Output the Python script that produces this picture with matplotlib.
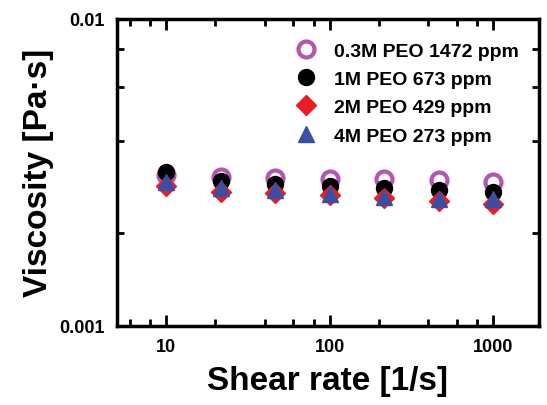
import numpy as np
import matplotlib.pyplot as plt
from matplotlib import ticker

plt.rcParams['font.family'] = ['Liberation Sans', 'DejaVu Sans']
plt.rcParams['font.weight'] = 'bold'

shear_rate = [10, 21.5, 46.4, 100, 215, 464, 1000]
visc_03M = [0.00309, 0.00305, 0.00303, 0.00301, 0.00300, 0.00298, 0.00295]
visc_1M = [0.00318, 0.00296, 0.00290, 0.00286, 0.00281, 0.00276, 0.00272]
visc_2M = [0.00286, 0.00272, 0.00270, 0.00266, 0.00261, 0.00256, 0.00250]
visc_4M = [0.00295, 0.00281, 0.00276, 0.00269, 0.00263, 0.00259, 0.00259]
labels = ['0.3M PEO 1472 ppm', '1M PEO 673 ppm', '2M PEO 429 ppm', '4M PEO 273 ppm']

fig = plt.figure(figsize=(5.47, 4.06), dpi=100)
ax = fig.add_axes([0.214, 0.195, 0.771, 0.756])

ax.plot(shear_rate, visc_03M, 'o', ms=11.5, mfc='white', mec='#b455b0', mew=3, label=labels[0])
ax.plot(shear_rate, visc_1M, 'o', ms=11.5, color='black', label=labels[1])
ax.plot(shear_rate, visc_2M, 'D', ms=10, color='#ec1c24', label=labels[2])
ax.plot(shear_rate, visc_4M, '^', ms=12, color='#3a4fa3', label=labels[3])

ax.set_xscale('log')
ax.set_yscale('log')
ax.set_xlim(5, 1900)
ax.set_ylim(0.001, 0.01)

ax.xaxis.set_major_locator(ticker.FixedLocator([10, 100, 1000]))
ax.xaxis.set_major_formatter(ticker.FixedFormatter(['10', '100', '1000']))
ax.xaxis.set_minor_locator(ticker.LogLocator(base=10, subs=[2, 4, 6, 8]))
ax.xaxis.set_minor_formatter(ticker.NullFormatter())
ax.yaxis.set_major_locator(ticker.FixedLocator([0.001, 0.01]))
ax.yaxis.set_major_formatter(ticker.FixedFormatter(['0.001', '0.01']))
ax.yaxis.set_minor_locator(ticker.LogLocator(base=10, subs=[2, 4, 6, 8]))
ax.yaxis.set_minor_formatter(ticker.NullFormatter())

ax.tick_params(which='both', direction='in', top=True, right=True, width=2)
ax.tick_params(which='major', length=8, labelsize=13, pad=9)
ax.tick_params(which='minor', length=5)
for s in ax.spines.values():
    s.set_linewidth(2.5)

ax.set_xlabel('Shear rate [1/s]', fontsize=24, fontweight='bold', labelpad=7)
ax.set_ylabel('Viscosity [Pa·s]', fontsize=24, fontweight='bold', labelpad=4)

leg = ax.legend(loc='upper left', bbox_to_anchor=(0.395, 0.95), frameon=False,
                prop={'size': 14, 'weight': 'bold'}, handletextpad=0.7,
                labelspacing=0.55, borderaxespad=0.0, handlelength=1.5)

fig.savefig('out.png', dpi=100)
